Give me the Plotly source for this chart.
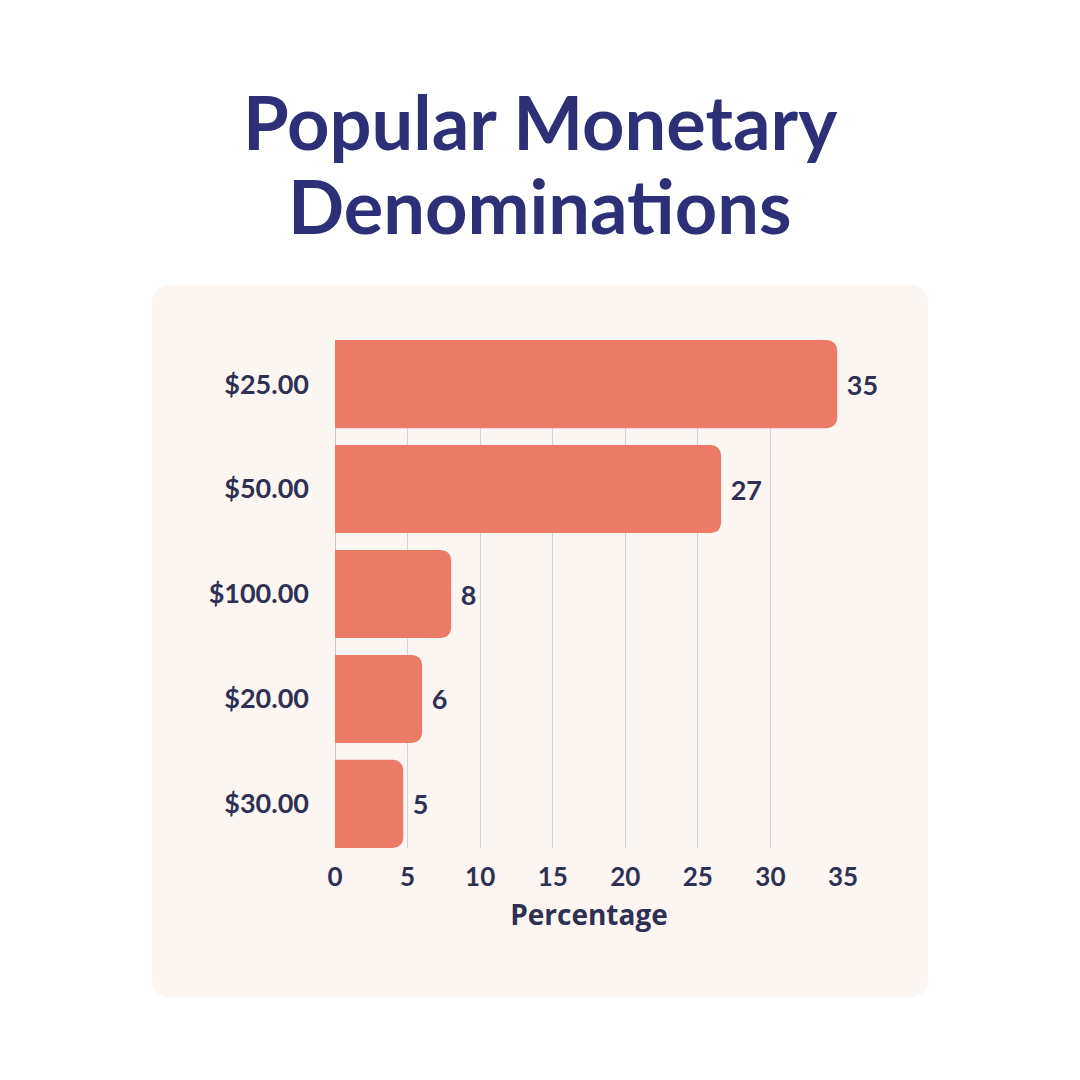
import plotly.graph_objects as go

categories = ["$25.00", "$50.00", "$100.00", "$20.00", "$30.00"]
values = [34.6, 26.6, 8.0, 6.0, 4.7]
x_ticks = [0, 5, 10, 15, 20, 25, 30, 35]

W = H = 1080
def px(x):
    return x / W
def py(y):
    return 1 - y / H

FONT = "Lato"
DARK = "#2F3152"
TITLE = "#2E3077"

fig = go.Figure(go.Bar(
    x=values, y=categories, orientation="h",
    marker=dict(color="#EB7A67", cornerradius=10, line=dict(width=0)),
    texttemplate="\u00a0%{x:.0f}", textposition="outside",
    textfont=dict(family=FONT, size=27, color=DARK, weight="bold"),
    cliponaxis=False, width=0.84,
))

# rounded panel background
x0, x1, y0, y1, r = 152, 928, 285, 997, 19
path = (f"M {px(x0+r)},{py(y0)} L {px(x1-r)},{py(y0)} "
        f"Q {px(x1)},{py(y0)} {px(x1)},{py(y0+r)} L {px(x1)},{py(y1-r)} "
        f"Q {px(x1)},{py(y1)} {px(x1-r)},{py(y1)} L {px(x0+r)},{py(y1)} "
        f"Q {px(x0)},{py(y1)} {px(x0)},{py(y1-r)} L {px(x0)},{py(y0+r)} "
        f"Q {px(x0)},{py(y0)} {px(x0+r)},{py(y0)} Z")

fig.update_layout(
    width=W, height=H,
    margin=dict(l=0, r=0, t=0, b=0, autoexpand=False),
    paper_bgcolor="white", plot_bgcolor="rgba(0,0,0,0)",
    showlegend=False,
    shapes=[dict(type="path", path=path, xref="paper", yref="paper",
                 fillcolor="#FCF6F3", line=dict(width=0), layer="below")],
    annotations=[
        dict(text="Popular Monetary", x=0.5, y=py(122), xref="paper", yref="paper",
             xanchor="center", yanchor="middle", showarrow=False,
             font=dict(family=FONT, size=74, color=TITLE, weight="bold")),
        dict(text="Denominations", x=0.5, y=py(205), xref="paper", yref="paper",
             xanchor="center", yanchor="middle", showarrow=False,
             font=dict(family=FONT, size=74, color=TITLE, weight="bold")),
    ],
    xaxis=dict(
        domain=[px(335), px(843)], range=[0, 35],
        tickvals=x_ticks, ticktext=[str(t) for t in x_ticks],
        showgrid=True, gridcolor="#D6D1D6", gridwidth=1,
        zeroline=True, zerolinecolor="#C9C4CA", zerolinewidth=1,
        showline=False, ticks="", automargin=False,
        ticklabelstandoff=11,
        tickfont=dict(family=FONT, size=26, color=DARK, weight="bold"),
        title=dict(text="Percentage", standoff=14,
                   font=dict(family="Open Sans", size=28, color=DARK, weight="bold")),
        fixedrange=True,
    ),
    yaxis=dict(
        domain=[py(848), py(340)], range=[4.42, -0.42],
        categoryorder="array", categoryarray=categories,
        showgrid=False, zeroline=False, showline=False, ticks="",
        ticklabelstandoff=25, automargin=False,
        tickfont=dict(family=FONT, size=27, color=DARK, weight="bold"),
        fixedrange=True,
    ),
)

fig.write_html("out.html")
